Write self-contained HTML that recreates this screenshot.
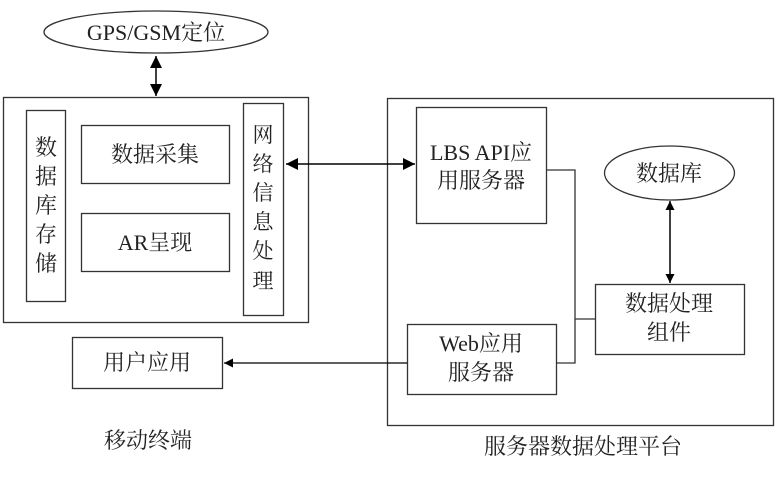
<!DOCTYPE html>
<html><head><meta charset="utf-8"><style>
html,body{margin:0;padding:0;background:#fff;}
svg text{font-family:"Liberation Serif","Noto Serif CJK SC",serif;fill:#222;}
</style></head><body>
<svg width="778" height="472" viewBox="0 0 778 472" xmlns="http://www.w3.org/2000/svg">
<defs>
<marker id="a" viewBox="0 0 10 10" refX="10" refY="5" markerWidth="9" markerHeight="9" markerUnits="userSpaceOnUse" orient="auto-start-reverse"><path d="M0,0 L10,5 L0,10 z" fill="#000"/></marker>
<marker id="b" viewBox="0 0 10 10" refX="10" refY="5" markerWidth="12" markerHeight="12" markerUnits="userSpaceOnUse" orient="auto-start-reverse"><path d="M0,0 L10,5 L0,10 z" fill="#000"/></marker>
</defs>
<g fill="none" stroke="#333" stroke-width="1.3">
<ellipse cx="156" cy="32" rx="112" ry="21"/>
<rect x="3.5" y="97.5" width="305" height="225"/>
<rect x="26.5" y="110.5" width="39" height="191"/>
<rect x="81.5" y="125.5" width="148" height="58"/>
<rect x="81.5" y="213.5" width="148" height="58"/>
<rect x="243.5" y="103.5" width="40" height="212"/>
<rect x="387.5" y="98.5" width="386" height="327"/>
<rect x="416.5" y="107.5" width="130" height="116"/>
<ellipse cx="669.5" cy="173" rx="65" ry="27"/>
<rect x="595.5" y="284.5" width="149" height="70"/>
<rect x="407.5" y="324.5" width="149" height="70"/>
<rect x="72.5" y="337.5" width="150" height="51"/>
<polyline points="546,170 575,170 575,363 556,363"/>
<line x1="575" y1="319" x2="595" y2="319"/>
</g>
<g stroke="#000" stroke-width="1.5" fill="none">
<line x1="156" y1="56" x2="156" y2="96" marker-start="url(#b)" marker-end="url(#b)"/>
<line x1="286" y1="164" x2="415" y2="164" marker-start="url(#b)" marker-end="url(#b)"/>
<line x1="670" y1="201" x2="670" y2="283" marker-start="url(#a)" marker-end="url(#a)"/>
<line x1="407" y1="363" x2="224" y2="363" stroke-width="1.2" marker-end="url(#a)"/>
</g>
<g font-size="22" text-anchor="middle">
<text x="156" y="40">GPS/GSM定位</text>
<text x="155" y="162">数据采集</text>
<text x="155" y="250">AR呈现</text>
<text x="669" y="181">数据库</text>
<text x="481" y="160">LBS API应</text>
<text x="481" y="188">用服务器</text>
<text x="669" y="311">数据处理</text>
<text x="669" y="340">组件</text>
<text x="481" y="351">Web应用</text>
<text x="481" y="380">服务器</text>
<text x="147" y="370">用户应用</text>
<text x="148" y="448">移动终端</text>
<text x="583" y="454">服务器数据处理平台</text>
</g>
<g font-size="22" text-anchor="middle">
<text x="46" y="155">数</text><text x="46" y="184">据</text><text x="46" y="213">库</text><text x="46" y="242">存</text><text x="46" y="271">储</text>
</g>
<g font-size="21" text-anchor="middle">
<text x="263" y="142">网</text><text x="263" y="171">络</text><text x="263" y="200">信</text><text x="263" y="229">息</text><text x="263" y="258">处</text><text x="263" y="288">理</text>
</g>
</svg>
</body></html>
